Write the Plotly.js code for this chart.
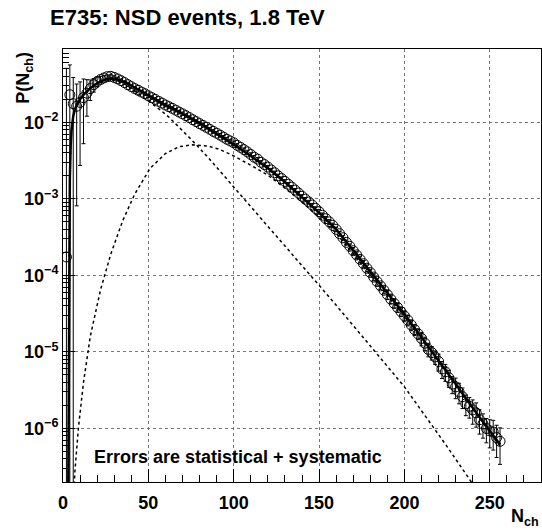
<!DOCTYPE html>
<html>
<head>
<meta charset="utf-8">
<script src="https://cdn.plot.ly/plotly-3.0.1.min.js"></script>
<style>html,body{margin:0;padding:0;background:#fff;}</style>
</head>
<body>
<div id="chart" style="width:542px;height:532px;"></div>
<script>
// ---- measured data: charged multiplicity distribution ----
const nch = [2,4,6,8,10,12,14,16,18,20,22,24,26,28,30,32,34,36,38,40,42,44,46,48,50,52,54,56,58,60,
62,64,66,68,70,72,74,76,78,80,82,84,86,88,90,92,94,96,98,100,102,104,106,108,110,112,114,116,118,120,
122,124,126,128,130,132,134,136,138,140,142,144,146,148,150,152,154,156,158,160,162,164,166,168,170,
172,174,176,178,180,182,184,186,188,190,192,194,196,198,200,202,204,206,208,210,212,214,216,218,220,
222,224,226,228,230,232,234,236,238,240,242,244,246,248,250,252,254,256];
const prob = [1.74e-4,0.0229,0.0175,0.0162,0.0182,0.0210,0.0240,0.0275,0.0310,0.0340,0.0362,0.0380,0.0394,0.0398,0.0385,
0.0368,0.0350,0.0330,0.0310,0.0292,0.0276,0.0262,0.0248,0.0236,0.0222,0.0210,0.0199,0.0188,0.0178,0.0168,
0.0160,0.0152,0.0144,0.0136,0.0129,0.0122,0.0115,0.0108,0.0102,0.0096,0.0091,0.0086,0.0081,0.0076,0.0072,
0.0068,0.0064,0.0060,0.0057,0.0054,0.0050,0.0047,0.0044,0.0041,0.0038,0.0035,0.0033,0.0030,0.0028,0.0026,
0.00238,0.00219,0.00200,0.00184,0.00169,0.00155,0.00142,0.00130,0.00119,0.00108,0.00099,0.00091,0.00083,0.00075,0.00068,
0.00061,0.00055,0.00050,0.00045,0.00040,0.00035,0.00031,0.00027,0.00024,0.00021,
1.85e-4,1.62e-4,1.42e-4,1.24e-4,1.09e-4,9.5e-5,8.3e-5,7.3e-5,6.4e-5,5.6e-5,4.9e-5,4.3e-5,3.8e-5,3.35e-5,2.95e-5,
2.6e-5,2.25e-5,1.95e-5,1.72e-5,1.5e-5,1.3e-5,1.08e-5,9.8e-6,8.6e-6,7.5e-6,
6.0e-6,5.5e-6,4.6e-6,3.8e-6,3.5e-6,3.0e-6,2.6e-6,2.1e-6,1.95e-6,1.75e-6,1.6e-6,1.3e-6,1.15e-6,1.0e-6,9.3e-7,9.0e-7,7.6e-7,6.8e-7];
// relative (statistical + systematic) errors
const relErr = [290,1.45,1.2,0.95,0.85,0.75,0.5,0.3,0.2,0.15,0.1,0.08,
0.05,0.05,0.05,0.05,0.05,0.05,0.05,0.05,0.05,0.05,0.05,0.05,0.05,0.05,0.05,0.05,0.05,0.05,0.05,0.05,
0.05,0.05,0.05,0.05,0.05,0.05,0.05,0.05,0.05,0.05,0.05,0.05,0.05,0.05,0.05,0.05,0.05,0.05,0.05,0.05,
0.05,0.05,0.05,0.05,0.05,0.05,0.05,0.05,0.05,0.05,0.05,0.05,0.05,0.05,0.05,0.05,0.05,0.05,0.05,0.05,
0.05,0.05,
0.07,0.07,0.07,0.07,0.07,0.07,0.07,0.07,0.07,0.07,
0.10,0.10,0.10,0.10,0.10,0.10,0.10,0.10,0.10,0.10,
0.13,0.13,0.13,0.13,0.13,
0.16,0.16,0.16,0.16,0.16,
0.20,0.20,0.20,0.20,0.20,
0.25,0.25,0.25,0.25,0.25,
0.30,0.30,0.30,0.30,0.30,
0.35,0.35,0.35,0.35,0.35,
0.40,0.42,0.45,0.50];

// ---- two-component fit ----
const totalN = [3.0,3.3,3.6,4.0,4.5,5,6,7,8,10,12,14,16,18,20,22,25,28,31,34,37,40,44,48,52,56,60,65,70,75,80,85,90,95,100,110,120,130,140,150,160,170,180,190,200,210,220,230,240,250,256];
const totalP = [6.3e-8,1e-5,2.5e-4,1.78e-3,5.0e-3,7.9e-3,0.0120,0.0148,0.0166,0.0200,0.0229,0.0257,0.0279,0.0302,0.0324,0.0343,0.0363,0.0372,0.0367,0.0351,0.0331,0.0302,0.0269,0.0237,0.0209,0.0186,0.0166,0.0148,0.0129,0.0112,0.0098,0.0083,0.0071,0.0060,0.0051,0.00363,0.00251,0.00166,0.00105,6.6e-4,4.0e-4,2.14e-4,1.12e-4,5.9e-5,3.1e-5,1.55e-5,7.8e-6,3.8e-6,1.86e-6,9.3e-7,6.2e-7];
const softN = [3.0,3.3,3.6,4.0,4.5,5,6,7,8,10,12,14,16,18,20,22,25,28,31,34,37,40,44,48,52,57,62,68,75,85,100,120,137,156,180,200,225,240,250];
const softP = [6.3e-8,1e-5,2.5e-4,1.78e-3,5.0e-3,7.9e-3,0.0120,0.0148,0.0166,0.0200,0.0229,0.0257,0.0279,0.0302,0.0320,0.0339,0.0355,0.0359,0.0351,0.0331,0.0309,0.0275,0.0237,0.0204,0.0176,0.0145,0.0117,0.0087,0.0060,0.00347,0.00143,4.4e-4,1.58e-4,5.2e-5,1.2e-5,3.5e-6,5.8e-7,1.9e-7,8.9e-8];
const semihardN = [5.5,7,9,12,16,22,28,35,42,51,60,68,76,85,92,100,110,120,130,140,150,160,170,180,190,200,210,220,230,240,250,256];
const semihardP = [6.3e-8,2.8e-7,1.0e-6,4.0e-6,1.6e-5,6.5e-5,1.9e-4,5.2e-4,1.15e-3,2.5e-3,3.9e-3,4.8e-3,5.07e-3,4.9e-3,4.4e-3,3.63e-3,2.75e-3,2.04e-3,1.38e-3,9.1e-4,5.75e-4,3.55e-4,1.9e-4,1.02e-4,5.5e-5,2.9e-5,1.45e-5,7.4e-6,3.6e-6,1.78e-6,8.9e-7,5.9e-7];

// ---- axis labels ----
const xTickVals = [0,50,100,150,200,250];
const xTickText = ['0','50','100','150','200','250'];
const yTickVals = [1e-6,1e-5,1e-4,1e-3,1e-2];
const yTickText = ['10<sup>−6</sup>','10<sup>−5</sup>','10<sup>−4</sup>','10<sup>−3</sup>','10<sup>−2</sup>'];

const absErr = prob.map((p,i)=>p*relErr[i]);
const yMinor = [];
for (let e=-7; e<=-2; e++) for (let m=2; m<=9; m++) yMinor.push(m*Math.pow(10,e));

const FONT = 'Liberation Sans, Arial, Helvetica, sans-serif';

const traces = [
  {x:nch, y:prob, type:'scatter', mode:'markers',
   marker:{symbol:'circle-open', size:10, color:'black', line:{width:1, color:'black'}},
   error_y:{type:'data', array:absErr, visible:true, color:'black', thickness:1, width:2},
   hoverinfo:'skip'},
  {x:semihardN, y:semihardP, type:'scatter', mode:'lines',
   line:{color:'black', width:1.5, dash:'3px,3px'}},
  {x:softN, y:softP, type:'scatter', mode:'lines',
   line:{color:'black', width:1.5, dash:'3px,3px'}},
  {x:totalN, y:totalP, type:'scatter', mode:'lines',
   line:{color:'black', width:2.5}}
];

const layout = {
  width:542, height:532,
  margin:{l:63, r:1, t:49, b:50, pad:0},
  paper_bgcolor:'white', plot_bgcolor:'white',
  showlegend:false,
  font:{family:FONT, color:'black', size:18},
  title:{text:'<b>E735: NSD events, 1.8 TeV</b>', font:{family:FONT, size:22, color:'black'},
         xref:'container', yref:'container', x:50/542, xanchor:'left', y:1-17/532, yanchor:'middle'},
  xaxis:{range:[0,280], showline:true, mirror:true, linecolor:'black', linewidth:1,
         ticks:'inside', ticklen:13, tickwidth:1, tickcolor:'black',
         tickmode:'array', tickvals:xTickVals, ticktext:xTickText,
         tickfont:{family:FONT, size:18, weight:'bold', color:'black'},
         ticklabelstandoff:4,
         showgrid:true, gridcolor:'#777777', griddash:'dot', gridwidth:1, zeroline:false,
         minor:{ticks:'inside', ticklen:7, dtick:10, tick0:0, tickcolor:'black', tickwidth:1, showgrid:false}},
  yaxis:{type:'log', range:[Math.log10(2.0e-7), Math.log10(0.0906)],
         showline:true, mirror:true, linecolor:'black', linewidth:1,
         ticks:'inside', ticklen:12, tickwidth:1, tickcolor:'black',
         tickmode:'array', tickvals:yTickVals, ticktext:yTickText,
         tickfont:{family:FONT, size:18, weight:'bold', color:'black'},
         ticklabelstandoff:0,
         showgrid:true, gridcolor:'#777777', griddash:'dot', gridwidth:1, zeroline:false,
         minor:{ticks:'inside', ticklen:6, tickmode:'array', tickvals:yMinor, tickcolor:'black', tickwidth:1, showgrid:false}},
  annotations:[
    {text:'<b>P(N<sub>ch</sub>)</b>', xref:'paper', yref:'paper', x:(25-63)/478, y:(482-78)/432.7,
     xanchor:'center', yanchor:'middle', textangle:-90, showarrow:false, font:{family:FONT, size:18, color:'black'}},
    {text:'<b>N<sub>ch</sub></b>', xref:'paper', yref:'paper', x:1.0, y:(482-517)/432.7,
     xanchor:'right', yanchor:'middle', showarrow:false, font:{family:FONT, size:18, color:'black'}},
    {text:'<b>Errors are statistical + systematic</b>', xref:'paper', yref:'paper', x:(92-63)/478, y:(482-457)/432.7,
     xanchor:'left', yanchor:'middle', showarrow:false, font:{family:FONT, size:18, color:'black'}}
  ]
};

Plotly.newPlot('chart', traces, layout, {displayModeBar:false, staticPlot:true});
</script>
</body>
</html>
